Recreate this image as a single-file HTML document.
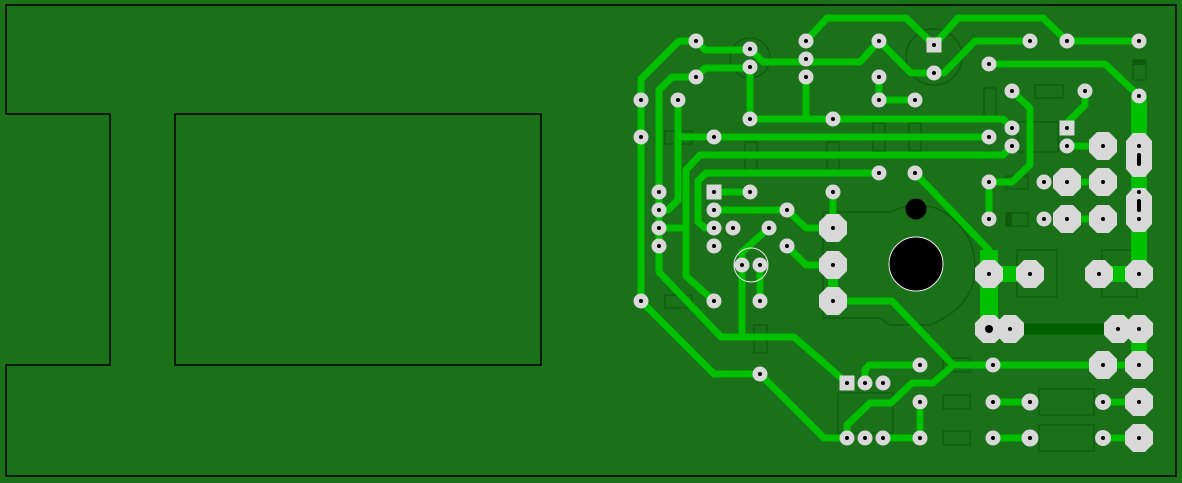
<!DOCTYPE html>
<html><head><meta charset="utf-8"><style>html,body{margin:0;padding:0;background:#1a7119;}svg{display:block}</style></head>
<body>
<svg width="1182" height="483" viewBox="0 0 1182 483" xmlns="http://www.w3.org/2000/svg">
<rect width="1182" height="483" fill="#1a7119"/>
<path d="M6,5 H1176 V476 H6 V365 H110 V114 H6 Z" fill="none" stroke="#000" stroke-width="1.5"/>
<rect x="175" y="114" width="366" height="251" fill="none" stroke="#000" stroke-width="1.5"/>
<!-- component outlines -->
<g fill="none" stroke="#0d5a0d" stroke-width="1.2">
<path d="M823,212 H890 Q940,190 970,240 Q990,300 930,325 H890 L880,318 H823 Z"/>
<circle cx="750" cy="58" r="20"/><circle cx="934" cy="57" r="28"/>
<rect x="984" y="88" width="12" height="28"/><rect x="1035" y="85" width="28" height="13"/>
<rect x="745" y="142" width="12" height="28"/><rect x="827" y="142" width="12" height="28"/>
<rect x="873" y="123" width="12" height="28"/><rect x="909" y="123" width="12" height="28"/>
<rect x="665" y="131" width="27" height="13"/><rect x="665" y="295" width="27" height="13"/>
<rect x="754" y="325" width="13" height="28"/><rect x="943" y="395" width="27" height="14"/>
<rect x="943" y="431" width="27" height="14"/><rect x="943" y="358" width="27" height="14"/>
<rect x="1039" y="389" width="55" height="26"/><rect x="1039" y="425" width="55" height="26"/>
<rect x="1006" y="176" width="22" height="13"/><rect x="1006" y="213" width="22" height="13"/>
<rect x="1133" y="60" width="13" height="20"/>
<rect x="1017" y="250" width="40" height="47"/><rect x="1102" y="250" width="35" height="47"/>
<rect x="838" y="393" width="55" height="40"/><rect x="1018" y="122" width="40" height="30"/>
</g>
<rect x="1006" y="213" width="6" height="13" fill="#0d5a0d"/>
<rect x="1133" y="60" width="13" height="5" fill="#0d5a0d"/>
<!-- traces -->
<g fill="none" stroke="#00c000" stroke-width="7" stroke-linejoin="round" stroke-linecap="round">
<path d="M696,41 H679 L641,79 V301 L714,374 H760 L824,438 H847"/>
<path d="M696,77 H672 L659,90 V272 L721,337 H794 L847,383"/>
<path d="M696,41 L705,50 H750"/><path d="M696,77 L705,68 H750"/>
<path d="M750,67 V119"/>
<path d="M750,49 L763,62 H860 L879,41 L911,73 H944 L975,41 H1030"/>
<path d="M1067,41 H1139"/>
<path d="M806,41 L827,18 H906 L934,45 L958,18 H1043 L1067,41"/>
<path d="M806,77 V119"/>
<path d="M750,119 H1003 L1012,128"/>
<path d="M678,100 V200 L668,210 H659"/>
<path d="M678,137 H989"/>
<path d="M1012,146 L1003,155 H700 L686,170 V276 L714,301"/>
<path d="M879,173 H706 L698,181 V222 L705,228 H714"/>
<path d="M659,228 H686"/>
<path d="M714,192 H750"/>
<path d="M714,210 H787 L806,228 H833"/>
<path d="M833,192 V228"/>
<path d="M769,228 L742,252 V337"/>
<path d="M760,265 V301"/>
<path d="M787,246 L806,265 H833"/>
<path d="M833,265 V301 H892 L953,365 H1139"/>
<path d="M920,365 H869 L865,370 V383"/>
<path d="M950,368 L933,383 H912 L891,403 H870 L847,425 V438"/>
<path d="M883,438 H920 V402"/>
<path d="M993,402 H1030 M993,438 H1030 M1103,402 H1139 M1103,438 H1139"/>
<path d="M915,173 L989,250 V329"/>
<path d="M989,64 H1105 L1139,96"/>
<path d="M1012,91 L1030,108 V165 L1012,182 H989 V219"/>
<path d="M1085,91 V105 L1067,123 V128"/>
<path d="M1067,146 H1103 M1067,182 H1103 M1067,219 H1103"/>
<path d="M879,77 V100 H915"/>
</g>
<g fill="none" stroke="#00c000" stroke-linecap="butt">
<path d="M989,250 V329" stroke-width="18"/>
<path d="M989,274 H1030" stroke-width="16"/>
<path d="M1099,274 H1139" stroke-width="16"/>
<path d="M1139,96 V274" stroke-width="16"/>
<path d="M1139,329 V365" stroke-width="16"/>
<path d="M833,265 V301" stroke-width="10"/>
</g>
<path d="M1010,329 H1118" stroke="#005e00" stroke-width="11"/>
<!-- holes -->
<circle cx="916" cy="264" r="27" fill="#000" stroke="#eee" stroke-width="1"/>
<circle cx="916" cy="209" r="10.5" fill="#000"/>
<circle cx="751" cy="265" r="17" fill="none" stroke="#eee" stroke-width="1"/>
<!-- octagon pads -->
<g fill="#d8d8d8">
<g id="o"></g>
</g>
<g fill="#d8d8d8">
<path d="M-6,-14 H6 L14,-6 V6 L6,14 H-6 L-14,6 V-6 Z" transform="translate(833,228)"/>
<path d="M-6,-14 H6 L14,-6 V6 L6,14 H-6 L-14,6 V-6 Z" transform="translate(833,265)"/>
<path d="M-6,-14 H6 L14,-6 V6 L6,14 H-6 L-14,6 V-6 Z" transform="translate(833,301)"/>
<path d="M-6,-14 H6 L14,-6 V6 L6,14 H-6 L-14,6 V-6 Z" transform="translate(1103,146)"/>
<path d="M-6,-14 H6 L14,-6 V6 L6,14 H-6 L-14,6 V-6 Z" transform="translate(1067,182)"/>
<path d="M-6,-14 H6 L14,-6 V6 L6,14 H-6 L-14,6 V-6 Z" transform="translate(1103,182)"/>
<path d="M-6,-14 H6 L14,-6 V6 L6,14 H-6 L-14,6 V-6 Z" transform="translate(1067,219)"/>
<path d="M-6,-14 H6 L14,-6 V6 L6,14 H-6 L-14,6 V-6 Z" transform="translate(1103,219)"/>
<path d="M-6,-14 H6 L14,-6 V6 L6,14 H-6 L-14,6 V-6 Z" transform="translate(989,274)"/>
<path d="M-6,-14 H6 L14,-6 V6 L6,14 H-6 L-14,6 V-6 Z" transform="translate(1030,274)"/>
<path d="M-6,-14 H6 L14,-6 V6 L6,14 H-6 L-14,6 V-6 Z" transform="translate(1099,274)"/>
<path d="M-6,-14 H6 L14,-6 V6 L6,14 H-6 L-14,6 V-6 Z" transform="translate(1139,274)"/>
<path d="M-6,-14 H6 L14,-6 V6 L6,14 H-6 L-14,6 V-6 Z" transform="translate(989,329)"/>
<path d="M-6,-14 H6 L14,-6 V6 L6,14 H-6 L-14,6 V-6 Z" transform="translate(1010,329)"/>
<path d="M-6,-14 H6 L14,-6 V6 L6,14 H-6 L-14,6 V-6 Z" transform="translate(1118,329)"/>
<path d="M-6,-14 H6 L14,-6 V6 L6,14 H-6 L-14,6 V-6 Z" transform="translate(1139,329)"/>
<path d="M-6,-14 H6 L14,-6 V6 L6,14 H-6 L-14,6 V-6 Z" transform="translate(1103,365)"/>
<path d="M-6,-14 H6 L14,-6 V6 L6,14 H-6 L-14,6 V-6 Z" transform="translate(1139,365)"/>
<path d="M-6,-14 H6 L14,-6 V6 L6,14 H-6 L-14,6 V-6 Z" transform="translate(1139,402)"/>
<path d="M-6,-14 H6 L14,-6 V6 L6,14 H-6 L-14,6 V-6 Z" transform="translate(1139,438)"/>
<path d="M-6,-22 H6 L13,-14 V14 L6,22 H-6 L-13,14 V-14 Z" transform="translate(1139,155)"/>
<path d="M-6,-22 H6 L13,-14 V14 L6,22 H-6 L-13,14 V-14 Z" transform="translate(1139,210)"/>
</g>
<!-- round pads -->
<g fill="#d8d8d8">
<circle cx="696" cy="41" r="7.5"/><circle cx="750" cy="49" r="7.5"/><circle cx="750" cy="67" r="7.5"/><circle cx="696" cy="77" r="7.5"/>
<circle cx="806" cy="41" r="7.5"/><circle cx="806" cy="59" r="7.5"/><circle cx="806" cy="77" r="7.5"/><circle cx="879" cy="41" r="7.5"/><circle cx="879" cy="77" r="7.5"/>
<circle cx="934" cy="73" r="7.5"/><circle cx="1030" cy="41" r="7.5"/><circle cx="1067" cy="41" r="7.5"/><circle cx="1139" cy="41" r="7.5"/><circle cx="989" cy="64" r="7.5"/>
<circle cx="641" cy="100" r="7.5"/><circle cx="678" cy="100" r="7.5"/><circle cx="879" cy="100" r="7.5"/><circle cx="915" cy="100" r="7.5"/><circle cx="1012" cy="91" r="7.5"/><circle cx="1085" cy="91" r="7.5"/><circle cx="1139" cy="96" r="7.5"/>
<circle cx="750" cy="119" r="7.5"/><circle cx="833" cy="119" r="7.5"/><circle cx="641" cy="137" r="7.5"/><circle cx="714" cy="137" r="7.5"/><circle cx="989" cy="137" r="7.5"/><circle cx="1012" cy="128" r="7.5"/><circle cx="1012" cy="146" r="7.5"/><circle cx="1067" cy="146" r="7.5"/>
<circle cx="879" cy="173" r="7.5"/><circle cx="915" cy="173" r="7.5"/><circle cx="659" cy="192" r="7.5"/><circle cx="750" cy="192" r="7.5"/><circle cx="833" cy="192" r="7.5"/><circle cx="989" cy="182" r="7.5"/><circle cx="1044" cy="182" r="7.5"/>
<circle cx="659" cy="210" r="7.5"/><circle cx="714" cy="210" r="7.5"/><circle cx="787" cy="210" r="7.5"/><circle cx="659" cy="228" r="7.5"/><circle cx="714" cy="228" r="7.5"/><circle cx="733" cy="228" r="7.5"/><circle cx="769" cy="228" r="7.5"/><circle cx="989" cy="219" r="7.5"/><circle cx="1044" cy="219" r="7.5"/>
<circle cx="659" cy="246" r="7.5"/><circle cx="714" cy="246" r="7.5"/><circle cx="787" cy="246" r="7.5"/><circle cx="742" cy="265" r="7.5"/><circle cx="760" cy="265" r="7.5"/>
<circle cx="641" cy="301" r="7.5"/><circle cx="714" cy="301" r="7.5"/><circle cx="760" cy="301" r="7.5"/><circle cx="760" cy="374" r="7.5"/>
<circle cx="865" cy="383" r="7.5"/><circle cx="883" cy="383" r="7.5"/><circle cx="920" cy="365" r="7.5"/><circle cx="993" cy="365" r="7.5"/>
<circle cx="920" cy="402" r="7.5"/><circle cx="993" cy="402" r="7.5"/><circle cx="1030" cy="402" r="8.5"/><circle cx="1103" cy="402" r="8"/>
<circle cx="847" cy="438" r="7.5"/><circle cx="865" cy="438" r="7.5"/><circle cx="883" cy="438" r="7.5"/><circle cx="920" cy="438" r="7.5"/><circle cx="993" cy="438" r="7.5"/><circle cx="1030" cy="438" r="8.5"/><circle cx="1103" cy="438" r="8"/>
<rect x="926.5" y="37.5" width="15" height="15"/><rect x="1059.5" y="120.5" width="15" height="15"/><rect x="706.5" y="184.5" width="15" height="15"/><rect x="839.5" y="375.5" width="15" height="15"/>
</g>
<!-- drill dots -->
<g fill="#000">
<circle cx="696" cy="41" r="2"/><circle cx="750" cy="49" r="2"/><circle cx="750" cy="67" r="2"/><circle cx="696" cy="77" r="2"/>
<circle cx="806" cy="41" r="2"/><circle cx="806" cy="59" r="2"/><circle cx="806" cy="77" r="2"/><circle cx="879" cy="41" r="2"/><circle cx="879" cy="77" r="2"/>
<circle cx="934" cy="45" r="2"/><circle cx="934" cy="73" r="2"/><circle cx="1030" cy="41" r="2"/><circle cx="1067" cy="41" r="2"/><circle cx="1139" cy="41" r="2"/><circle cx="989" cy="64" r="2"/>
<circle cx="641" cy="100" r="2"/><circle cx="678" cy="100" r="2"/><circle cx="879" cy="100" r="2"/><circle cx="915" cy="100" r="2"/><circle cx="1012" cy="91" r="2"/><circle cx="1085" cy="91" r="2"/><circle cx="1139" cy="96" r="2"/>
<circle cx="750" cy="119" r="2"/><circle cx="833" cy="119" r="2"/><circle cx="641" cy="137" r="2"/><circle cx="714" cy="137" r="2"/><circle cx="989" cy="137" r="2"/><circle cx="1012" cy="128" r="2"/><circle cx="1067" cy="128" r="2"/><circle cx="1012" cy="146" r="2"/><circle cx="1067" cy="146" r="2"/>
<circle cx="879" cy="173" r="2"/><circle cx="915" cy="173" r="2"/><circle cx="659" cy="192" r="2"/><circle cx="714" cy="192" r="2"/><circle cx="750" cy="192" r="2"/><circle cx="833" cy="192" r="2"/><circle cx="989" cy="182" r="2"/><circle cx="1044" cy="182" r="2"/>
<circle cx="659" cy="210" r="2"/><circle cx="714" cy="210" r="2"/><circle cx="787" cy="210" r="2"/><circle cx="659" cy="228" r="2"/><circle cx="714" cy="228" r="2"/><circle cx="733" cy="228" r="2"/><circle cx="769" cy="228" r="2"/><circle cx="989" cy="219" r="2"/><circle cx="1044" cy="219" r="2"/>
<circle cx="659" cy="246" r="2"/><circle cx="714" cy="246" r="2"/><circle cx="787" cy="246" r="2"/><circle cx="742" cy="265" r="2"/><circle cx="760" cy="265" r="2"/>
<circle cx="641" cy="301" r="2"/><circle cx="714" cy="301" r="2"/><circle cx="760" cy="301" r="2"/><circle cx="760" cy="374" r="2"/>
<circle cx="847" cy="383" r="2"/><circle cx="865" cy="383" r="2"/><circle cx="883" cy="383" r="2"/><circle cx="920" cy="365" r="2"/><circle cx="993" cy="365" r="2"/>
<circle cx="920" cy="402" r="2"/><circle cx="993" cy="402" r="2"/><circle cx="1030" cy="402" r="2"/><circle cx="1103" cy="402" r="2"/>
<circle cx="847" cy="438" r="2"/><circle cx="865" cy="438" r="2"/><circle cx="883" cy="438" r="2"/><circle cx="920" cy="438" r="2"/><circle cx="993" cy="438" r="2"/><circle cx="1030" cy="438" r="2"/><circle cx="1103" cy="438" r="2"/>
<circle cx="833" cy="228" r="2"/><circle cx="833" cy="265" r="2"/><circle cx="833" cy="301" r="2"/><circle cx="1103" cy="146" r="2"/><circle cx="1067" cy="182" r="2"/><circle cx="1103" cy="182" r="2"/><circle cx="1067" cy="219" r="2"/><circle cx="1103" cy="219" r="2"/>
<circle cx="989" cy="274" r="2"/><circle cx="1030" cy="274" r="2"/><circle cx="1099" cy="274" r="2"/><circle cx="1139" cy="274" r="2"/>
<circle cx="989" cy="329" r="4"/><circle cx="1010" cy="329" r="2"/><circle cx="1118" cy="329" r="2"/><circle cx="1139" cy="329" r="2"/>
<circle cx="1103" cy="365" r="2"/><circle cx="1139" cy="365" r="2"/><circle cx="1139" cy="402" r="2"/><circle cx="1139" cy="438" r="2"/>
<circle cx="1139" cy="146" r="2"/><circle cx="1139" cy="192" r="2"/><circle cx="1139" cy="219" r="2"/>
<rect x="1137" y="153" width="4" height="13" rx="2"/><rect x="1137" y="199" width="4" height="13" rx="2"/>
</g>
</svg>
</body></html>
